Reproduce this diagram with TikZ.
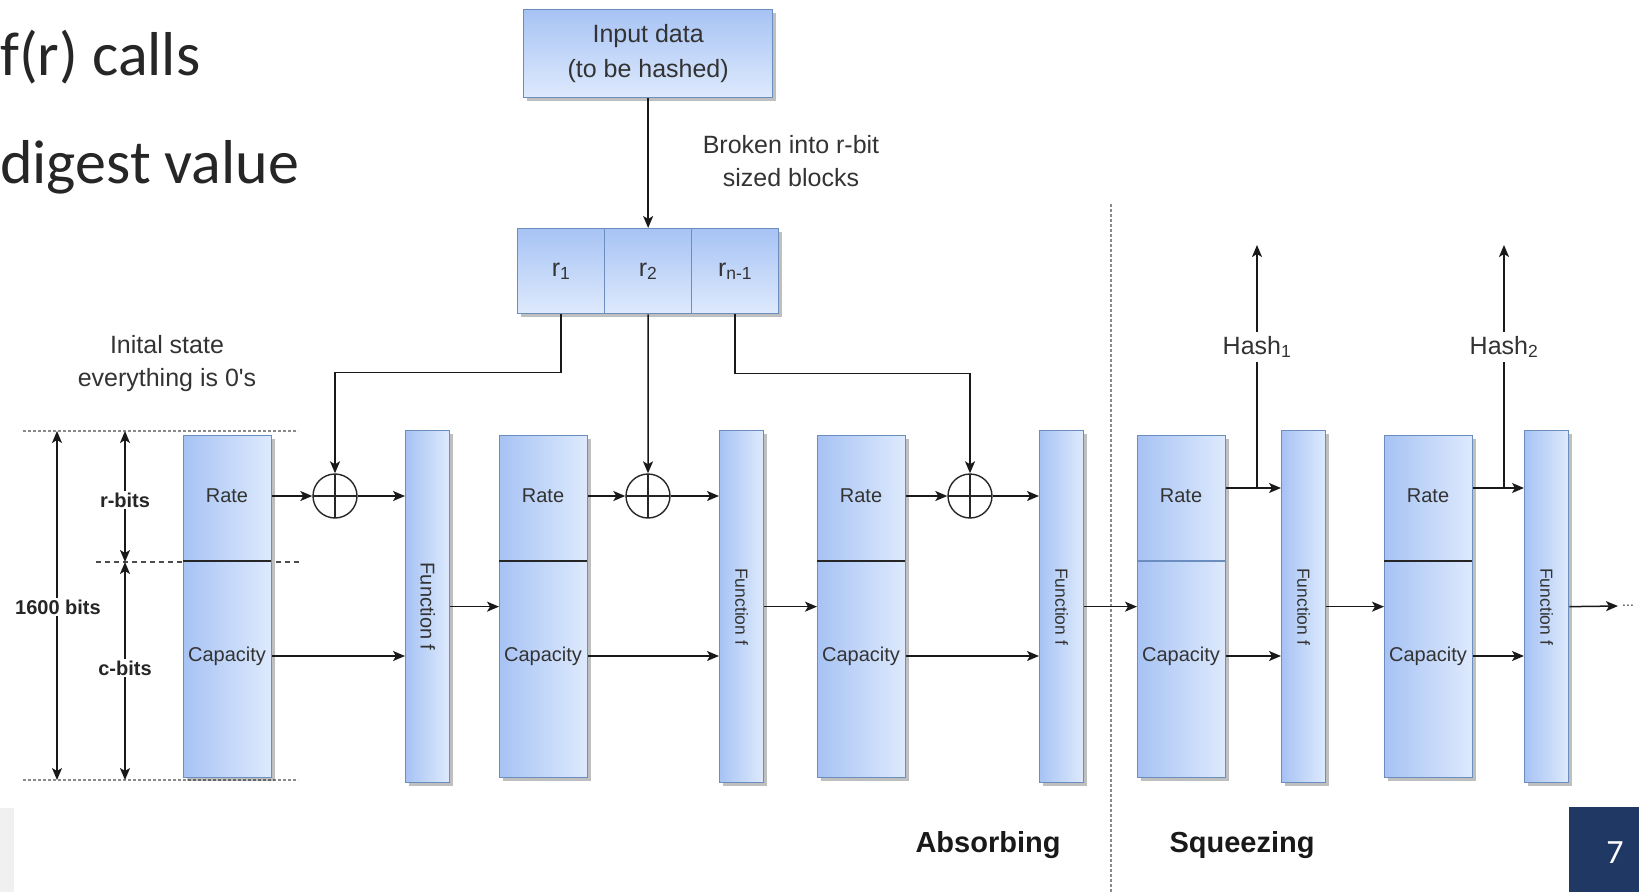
\documentclass[tikz,border=0pt]{standalone}
\usepackage{fontspec}
\setmainfont{Liberation Sans}
\newfontfamily\slidefont{Carlito}
\usetikzlibrary{arrows.meta,shadows}

\definecolor{boxline}{HTML}{6C8EBF}
\definecolor{boxdark}{HTML}{A7C3F4}
\definecolor{boxlight}{HTML}{DEEAFD}
\definecolor{txt}{HTML}{333333}
\definecolor{slidetxt}{HTML}{262626}
\definecolor{navy}{HTML}{1F3864}
\definecolor{guide}{HTML}{8A8A8A}
\definecolor{panel}{HTML}{F0F0F0}

\newcommand\fs[2]{\fontsize{#1}{#2}\selectfont}

% one state: outer box, rate/capacity divider and the two labels
\newcommand\stateblk[3]{%
  \node[stbox, anchor=north west] (#1) at (#2,435) {};
  \draw[#3, line width=1.4pt] (#2,561) -- ({#2+88},561);
  \node[lbl] (#1r) at ({#2+44},496) {Rate};
  \node[lbl] (#1c) at ({#2+44},656) {Capacity};
}
% one permutation block with its vertical caption
\newcommand\funcblk[3]{%
  \node[fnbox, anchor=north west] (#1) at (#2,430) {};
  \node[rotate=-90, font=\fs{#3}{#3}] (#1t) at (#1.center) {Function f};
}

\begin{document}
\begin{tikzpicture}[x=1pt, y=-1pt,
  every node/.style={text=txt, inner sep=0pt},
  shade/.style={draw=boxline, line width=1.3pt,
    drop shadow={shadow xshift=3pt, shadow yshift=-3pt, opacity=.25, fill=black}},
  hbox/.style={shade, left color=boxdark, right color=boxlight},
  vbox/.style={shade, top color=boxdark, bottom color=boxlight},
  stbox/.style={hbox, minimum width=88pt, minimum height=342pt},
  fnbox/.style={hbox, minimum width=44pt, minimum height=352pt},
  rbox/.style={vbox, minimum width=87pt, minimum height=85pt, anchor=north west,
    font=\fs{25}{30}},
  lbl/.style={font=\fs{20}{24}},
  note/.style={font=\fs{25}{33}, align=center},
  dim/.style={font=\bfseries\fs{20}{24}, text=black!85, fill=white, inner sep=2pt},
  tip/.style={Stealth[length=12pt, width=10pt, inset=3pt]},
  arr/.style={draw=black!90, line width=1.5pt, -{Stealth[length=12pt, width=10pt, inset=3pt]}},
  dbl/.style={draw=black!90, line width=1.5pt,
    {Stealth[length=12pt, width=10pt, inset=3pt]}-{Stealth[length=12pt, width=10pt, inset=3pt]}},
  xor/.style={circle, draw=black!85, line width=1.4pt, minimum size=44pt,
    path picture={\draw[black!85, line width=1.4pt]
      (path picture bounding box.north) -- (path picture bounding box.south)
      (path picture bounding box.west) -- (path picture bounding box.east);}},
  guideline/.style={guide, line width=2pt, dash pattern=on 2.6pt off 2.4pt},
]
\useasboundingbox (0,0) rectangle (1639,892);

% slide remnants
\node[font=\slidefont\fs{62}{70}, text=slidetxt, anchor=base west] (t1) at (0,75) {f(r) calls};
\node[font=\slidefont\fs{62}{70}, text=slidetxt, anchor=base west] (t2) at (0,183) {digest value};
\fill[panel] (0,808) rectangle (14,892);
\fill[navy] (1569,807) rectangle (1639,892);
\node[font=\slidefont\fs{34}{40}, text=white] (pg) at (1615,853) {7};

% guides for the state size
\draw[guideline] (23,431) -- (298,431);
\draw[guideline] (23,780) -- (298,780);
\draw[black!70, line width=1.2pt, dash pattern=on 5pt off 4pt] (96,562) -- (300,562);
\draw[guideline] (1111,204) -- (1111,892);

% input and its blocks
\node[vbox, minimum width=249pt, minimum height=88pt, anchor=north west,
  font=\fs{25}{35}, align=center] (inp) at (523,9) {Input data\\(to be hashed)};
\node[rbox] (r1) at (517,228) {r\textsubscript{1}};
\node[rbox] (r2) at (604,228) {r\textsubscript{2}};
\node[rbox] (r3) at (691,228) {r\textsubscript{n-1}};
\draw[arr] (inp.south) -- (r2.north);
\node[note] (brk) at (791,161) {Broken into r-bit\\sized blocks};

% initial state annotation
\node[note] (init) at (167,364) {Inital state\\everything is 0\textquotesingle s};
\coordinate (dA) at (57,431);
\coordinate (dB) at (57,780);
\coordinate (rA) at (125,431);
\coordinate (rM) at (125,562);
\coordinate (rB) at (125,780);
\draw[dbl] (dA) -- (dB);
\draw[dbl] (rA) -- (rM);
\draw[dbl] (rM) -- (rB);
\node[dim] (l1600) at (58,607) {1600 bits};
\node[dim] (lr) at (125,500) {r-bits};
\node[dim] (lc) at (125,668) {c-bits};

% states and permutations
\stateblk{s1}{183}{black!85}
\stateblk{s2}{499}{black!85}
\stateblk{s3}{817}{black!85}
\stateblk{s4}{1137}{boxline}
\stateblk{s5}{1384}{black!85}
\funcblk{f1}{405}{20}
\funcblk{f2}{719}{17.5}
\funcblk{f3}{1039}{17.5}
\funcblk{f4}{1281}{17.5}
\funcblk{f5}{1524}{17.5}

% XOR with the message blocks
\node[xor] (x1) at (335,496) {};
\node[xor] (x2) at (648,496) {};
\node[xor] (x3) at (970,496) {};
\draw[arr] (r1.south) -- ++(0,58) -| (x1.north);
\draw[arr] (r2.south) -- (x2.north);
\draw[arr] (r3.south) -- ++(0,59) -| (x3.north);

% absorbing phase
\draw[arr] (s1r -| s1.east) -- (x1.west);
\draw[arr] (x1.east) -- (x1 -| f1.west);
\draw[arr] (s1c -| s1.east) -- (s1c -| f1.west);
\draw[arr] (f1.east) -- (f1.east -| s2.west);
\draw[arr] (s2r -| s2.east) -- (x2.west);
\draw[arr] (x2.east) -- (x2 -| f2.west);
\draw[arr] (s2c -| s2.east) -- (s2c -| f2.west);
\draw[arr] (f2.east) -- (f2.east -| s3.west);
\draw[arr] (s3r -| s3.east) -- (x3.west);
\draw[arr] (x3.east) -- (x3 -| f3.west);
\draw[arr] (s3c -| s3.east) -- (s3c -| f3.west);
\draw[arr] (f3.east) -- (f3.east -| s4.west);

% squeezing phase
\coordinate (h1) at (1257,488);
\coordinate (h1top) at (1257,245);
\coordinate (h2) at (1504,488);
\coordinate (h2top) at (1504,245);
\coordinate (more) at (1618,606);
\draw[arr] (h1 -| s4.east) -- (h1 -| f4.west);
\draw[arr] (h1) -- (h1top);
\draw[arr] (s4c -| s4.east) -- (s4c -| f4.west);
\draw[arr] (f4.east) -- (f4.east -| s5.west);
\draw[arr] (h2 -| s5.east) -- (h2 -| f5.west);
\draw[arr] (h2) -- (h2top);
\draw[arr] (s5c -| s5.east) -- (s5c -| f5.west);
\draw[arr] (f5.east) -- (more);
\node[font=\fs{14}{16}, anchor=west] (dots) at (1622,606) {...};
\node[font=\fs{25}{30}, fill=white, inner sep=4pt] (hash1) at (1257,347) {Hash\textsubscript{1}};
\node[font=\fs{25}{30}, fill=white, inner sep=4pt] (hash2) at (1504,347) {Hash\textsubscript{2}};

% phase captions
\node[font=\bfseries\fs{29}{34}, text=black!90] (abs) at (988,845) {Absorbing};
\node[font=\bfseries\fs{29}{34}, text=black!90] (sqz) at (1242,845) {Squeezing};
\end{tikzpicture}
\end{document}
